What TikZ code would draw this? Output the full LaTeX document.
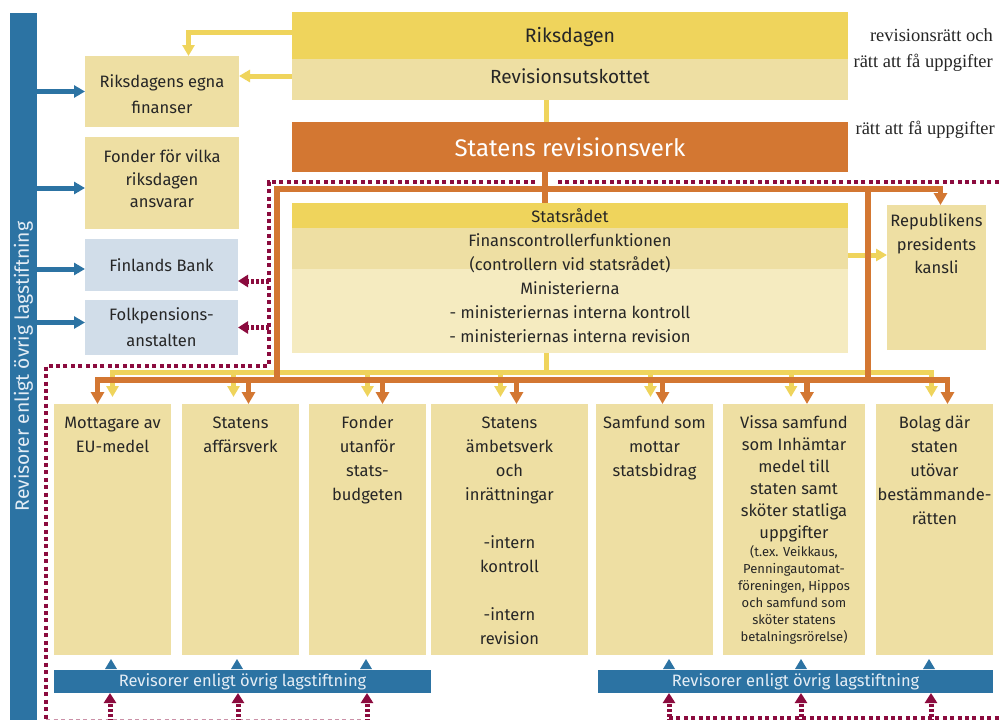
\documentclass[tikz,border=0pt]{standalone}
\usepackage{fontspec}
\setmainfont{Fira Sans}
\newfontfamily\lblfont{Liberation Serif}
\usetikzlibrary{arrows.meta,calc}
\definecolor{cYel}{HTML}{EFD45C}
\definecolor{cBei}{HTML}{EEDFA3}
\definecolor{cLBei}{HTML}{F5EBC0}
\definecolor{cLBlue}{HTML}{D1DDE9}
\definecolor{cBlue}{HTML}{2C73A3}
\definecolor{cOra}{HTML}{D37732}
\definecolor{cMar}{HTML}{8B0B3E}
\definecolor{cTxt}{HTML}{262626}
\definecolor{cBarTxt}{HTML}{E4EDF5}
\begin{document}
\begin{tikzpicture}[x=1pt,y=-1pt,
  bx/.style={inner sep=0pt,outer sep=0pt,anchor=north west},
  txt/.style={inner sep=0pt,outer sep=0pt,align=center,text=cTxt},
  tmain/.style={txt,font=\fontsize{16.5}{24}\selectfont},
  yline/.style={draw=cYel,line width=5pt},
  yarr/.style={yline,-{Triangle[width=12pt,length=11pt]}},
  oline/.style={draw=cOra,line width=5.5pt},
  oarr/.style={oline,-{Triangle[width=13pt,length=12pt]}},
  barr/.style={draw=cBlue,line width=5pt,-{Triangle[width=12pt,length=11pt]}},
  mframe/.style={draw=cMar,line width=4pt,dash pattern=on 4pt off 3.4pt},
  marr/.style={draw=cMar,line width=5pt,dash pattern=on 2.6pt off 2.4pt,-{Triangle[width=12pt,length=10pt]}},
  lbl/.style={inner sep=0pt,anchor=base east,text=cTxt,font=\lblfont\fontsize{18.5}{20}\selectfont}
]
\useasboundingbox (0,0) rectangle (1002,720);
\fill[white] (0,0) rectangle (1002,720);

% ---------- boxes ----------
\node[bx,fill=cBlue,minimum width=27pt,minimum height=707pt] (vbar) at (10,13) {};
\node[txt,text=cBarTxt,rotate=90,font=\fontsize{19.3}{20}\selectfont] (vbart) at (vbar.center) {Revisorer enligt övrig lagstiftning};

\node[bx,fill=cYel,minimum width=556pt,minimum height=47pt] (riks) at (292,12) {};
\node[txt,anchor=base,font=\fontsize{19.5}{24}\selectfont] (rikst) at ($(riks.north)+(0,30)$) {Riksdagen};
\node[bx,fill=cBei,minimum width=556pt,minimum height=41pt] (revu) at (292,59) {};
\node[txt,anchor=base,font=\fontsize{19}{24}\selectfont] (revut) at ($(revu.north)+(0,24.5)$) {Revisionsutskottet};
\node[bx,fill=cOra,minimum width=556pt,minimum height=50pt] (srv) at (292,122) {};
\node[txt,anchor=base,text=white,font=\fontsize{24}{30}\selectfont] (srvt) at ($(srv.north)+(0,34)$) {Statens revisionsverk};

\node[bx,fill=cYel,minimum width=556pt,minimum height=25pt] (statsr) at (292,203) {};
\node[bx,fill=cBei,minimum width=556pt,minimum height=41pt] (fin) at (292,228) {};
\node[bx,fill=cLBei,minimum width=556pt,minimum height=84pt] (mini) at (292,269) {};
\node[tmain,anchor=base] (statsrt) at ($(statsr.north)+(0,19.5)$) {Statsrådet};
\node[tmain,anchor=north] (fint) at ($(fin.north)+(0,1.9)$) {\strut Finanscontrollerfunktionen\\(controllern vid statsrådet)\\Ministerierna\\- ministeriernas interna kontroll\\- ministeriernas interna revision};

\node[bx,fill=cBei,minimum width=99pt,minimum height=145pt] (rep) at (887,205) {};
\node[txt,anchor=north,font=\fontsize{16.5}{23.5}\selectfont] (rept) at ($(rep.north)+(0,5.2)$) {\strut Republikens\\presidents\\kansli};

\node[bx,fill=cBei,minimum width=154pt,minimum height=71pt] (rikegna) at (85,56) {};
\node[txt,anchor=north,font=\fontsize{16.5}{26}\selectfont] (rikegnat) at ($(rikegna.north)+(0,12.8)$) {\strut Riksdagens egna\\finanser};
\node[bx,fill=cBei,minimum width=154pt,minimum height=92pt] (fonder) at (85,137) {};
\node[txt,anchor=north,font=\fontsize{16.5}{22.5}\selectfont] (fondert) at ($(fonder.north)+(0,10)$) {\strut Fonder för vilka\\riksdagen\\ansvarar};
\node[bx,fill=cLBlue,minimum width=153pt,minimum height=52pt] (finb) at (85,239) {};
\node[tmain,anchor=base] (finbt) at ($(finb.north)+(0,32.7)$) {Finlands Bank};
\node[bx,fill=cLBlue,minimum width=153pt,minimum height=55pt] (kela) at (85,300) {};
\node[txt,anchor=north,font=\fontsize{16.5}{26}\selectfont] (kelat) at ($(kela.north)+(0,2.5)$) {\strut Folkpensions-\\anstalten};

% bottom boxes
\node[bx,fill=cBei,minimum width=117pt,minimum height=251pt] (b1) at (54,404) {};
\node[bx,fill=cBei,minimum width=117pt,minimum height=251pt] (b2) at (182,404) {};
\node[bx,fill=cBei,minimum width=117pt,minimum height=251pt] (b3) at (309,404) {};
\node[bx,fill=cBei,minimum width=157pt,minimum height=251pt] (b4) at (431,404) {};
\node[bx,fill=cBei,minimum width=117pt,minimum height=251pt] (b5) at (596,404) {};
\node[bx,fill=cBei,minimum width=142pt,minimum height=251pt] (b6) at (723,404) {};
\node[bx,fill=cBei,minimum width=117pt,minimum height=251pt] (b7) at (876,404) {};

\node[tmain,anchor=north] (b1t) at ($(b1.north)+(0,7.2)$) {\strut Mottagare av\\EU-medel};
\node[tmain,anchor=north] (b2t) at ($(b2.north)+(0,7.2)$) {\strut Statens\\affärsverk};
\node[tmain,anchor=north] (b3t) at ($(b3.north)+(0,7.2)$) {\strut Fonder\\utanför\\stats-\\budgeten};
\node[tmain,anchor=north] (b4t) at ($(b4.north)+(0,7.2)$) {\strut Statens\\ämbetsverk\\och\\inrättningar\\ \\-intern\\kontroll\\ \\-intern\\revision};
\node[tmain,anchor=north] (b5t) at ($(b5.north)+(0,7.2)$) {\strut Samfund som\\mottar\\statsbidrag};
\node[txt,anchor=north,font=\fontsize{16.5}{22}\selectfont] (b6t) at ($(b6.north)+(0,8.6)$) {\strut Vissa samfund\\som Inhämtar\\medel till\\staten samt\\sköter statliga\\uppgifter};
\node[txt,anchor=north,font=\fontsize{13}{17}\selectfont] (b6s) at ($(b6.north)+(0,140.1)$) {\strut (t.ex. Veikkaus,\\Penningautomat-\\föreningen, Hippos\\och samfund som\\sköter statens\\betalningsrörelse)};
\node[tmain,anchor=north] (b7t) at ($(b7.north)+(0,7.2)$) {\strut Bolag där\\staten\\utövar\\bestämmande-\\rätten};

% bottom bars
\node[bx,fill=cBlue,minimum width=377pt,minimum height=23pt] (barL) at (54,670) {};
\node[txt,anchor=base,text=cBarTxt,font=\fontsize{16.5}{18}\selectfont] (barLt) at ($(barL.north)+(0,16.5)$) {Revisorer enligt övrig lagstiftning};
\node[bx,fill=cBlue,minimum width=395pt,minimum height=23pt] (barR) at (598,670) {};
\node[txt,anchor=base,text=cBarTxt,font=\fontsize{16.5}{18}\selectfont] (barRt) at ($(barR.north)+(0,16.5)$) {Revisorer enligt övrig lagstiftning};

% right labels
\node[lbl] (lab1) at (993,41) {revisionsrätt och};
\node[lbl] (lab2) at (993,67) {rätt att få uppgifter};
\node[lbl] (lab3) at (995,134) {rätt att få uppgifter};

% ---------- yellow connectors ----------
\draw[yarr] ($(riks.north west)+(0,20)$) -| ($(rikegna.north west)+(103.5,0)$);
\draw[yarr] ($(revu.north west)+(0,17)$) -- ($(rikegna.north east)+(0,20)$);
\draw[yline] ($(revu.south)+(-24,0)$) -- ($(srv.north)+(-24,0)$);
\draw[yarr] ($(fin.north east)+(0,27)$) -- ($(rep.north west)+(0,50)$);
\coordinate (yj) at ($(mini.south)+(-24,19)$);
\draw[yline] ($(mini.south)+(-24,0)$) -- (yj);
\draw[yarr] (yj) -| ($(b1.north)+(0,-7)$);
\draw[yarr] (yj) -| ($(b7.north)+(-3,-7)$);
\draw[yarr] ($(b2.north)+(-7,-34)$) -- ($(b2.north)+(-7,-7)$);
\draw[yarr] ($(b3.north)+(0,-34)$) -- ($(b3.north)+(0,-7)$);
\draw[yarr] ($(b4.north)+(-9,-34)$) -- ($(b4.north)+(-9,-7)$);
\draw[yarr] ($(b5.north)+(-4,-34)$) -- ($(b5.north)+(-4,-7)$);
\draw[yarr] ($(b6.north)+(-3,-34)$) -- ($(b6.north)+(-3,-7)$);

% ---------- orange connectors ----------
\coordinate (otl) at ($(statsr.north west)+(-15,-14)$);
\coordinate (otr) at ($(statsr.north east)+(20,-14)$);
\coordinate (obl) at ($(mini.south west)+(-15,27)$);
\coordinate (obr) at ($(mini.south east)+(20,27)$);
\draw[oline] ($(srv.south)+(-25,0)$) -- ($(statsr.north)+(-25,0)$);
\draw[oarr] (obl) -- (otl) -| ($(rep.north)+(4,0)$);
\draw[oline] (otr) -- (obr);
\draw[oarr] (obr) -| ($(b7.north)+(13,0)$);
\draw[oarr] (obr) -- (obl) -| ($(b1.north)+(-15,0)$);
\draw[oarr] ($(b2.north)+(8,-26)$) -- ($(b2.north)+(8,0)$);
\draw[oarr] ($(b3.north)+(15,-26)$) -- ($(b3.north)+(15,0)$);
\draw[oarr] ($(b4.north)+(7,-26)$) -- ($(b4.north)+(7,0)$);
\draw[oarr] ($(b5.north)+(8,-26)$) -- ($(b5.north)+(8,0)$);
\draw[oarr] ($(b6.north)+(13,-26)$) -- ($(b6.north)+(13,0)$);

% ---------- blue connectors ----------
\draw[barr] ($(rikegna.west)+(-48,0)$) -- (rikegna.west);
\draw[barr] ($(fonder.west)+(-48,5)$) -- ($(fonder.west)+(0,5)$);
\draw[barr] ($(finb.west)+(-48,4)$) -- ($(finb.west)+(0,4)$);
\draw[barr] ($(kela.west)+(-48,-5)$) -- ($(kela.west)+(0,-5)$);
\foreach \b/\dx in {b1/-1.5,b2/-3.5,b3/-1.5,b5/14.5,b6/7,b7/-5.5}{
  \fill[cBlue] ($(\b.south)+(\dx,4)$) -- ++(6,10) -- ++(-12,0) -- cycle;
}

% ---------- maroon dotted ----------
\coordinate (m1) at (1006,182);
\coordinate (m2) at (557,182);
\coordinate (m3) at (535,182);
\coordinate (m4) at (268.5,182);
\coordinate (m5) at (268.5,365.5);
\coordinate (m6) at (46.3,365.5);
\coordinate (m7) at (46.3,722);
\draw[mframe] (m1) -- (m2);
\draw[mframe] (m3) -- (m4) -- (m5) -- (m6) -- (m7);
\coordinate (m8) at (669,718);
\coordinate (m9) at (1006,718);
\draw[mframe] (m8) -- (m9);
\coordinate (m10) at (46.3,720);
\coordinate (m11) at (367,720);
\draw[draw=cMar!45,line width=1.5pt,dash pattern=on 4pt off 3.4pt] (m10) -- (m11);
\draw[marr] ($(finb.east)+(31,16)$) -- ($(finb.east)+(0,16)$);
\draw[marr] ($(kela.east)+(31,0)$) -- (kela.east);
\foreach \dx in {56,184,313}{
  \draw[marr] ($(barL.south west)+(\dx,29)$) -- ($(barL.south west)+(\dx,0)$);
}
\foreach \dx in {71,203,333}{
  \draw[marr] ($(barR.south west)+(\dx,29)$) -- ($(barR.south west)+(\dx,0)$);
}
\end{tikzpicture}
\end{document}
